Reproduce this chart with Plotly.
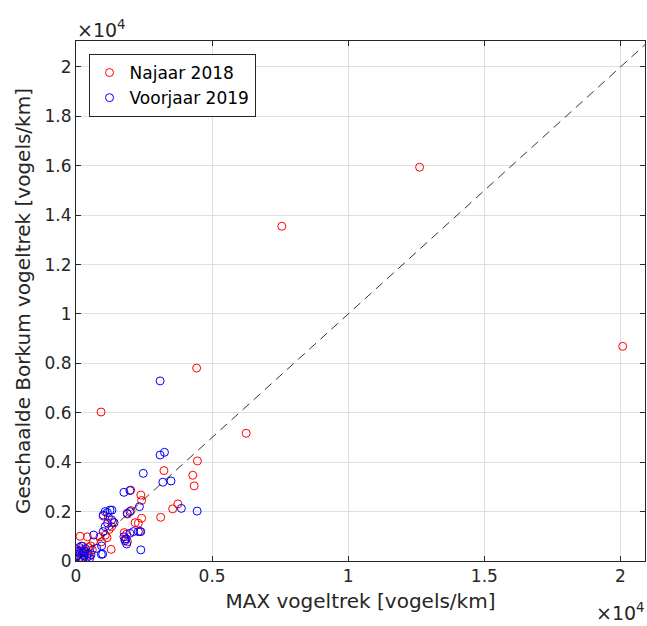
import plotly.graph_objects as go

# Bird migration intensity (birds/km): MAX radar vs. scaled Borkum radar
najaar_2018_max = [12620, 7560, 20080, 4430, 920, 6250, 4460, 3230, 4290, 4340,
                   2380, 2410, 3740, 3550, 3110, 2410, 2170, 2020, 1890, 2010,
                   1000, 1190, 1350, 1310, 1220, 1860, 1800, 1890, 1770, 2350,
                   2290, 1290, 150, 420, 880, 940, 640, 540, 1080, 1140,
                   100, 200, 300, 150, 400, 250, 350, 500, 80, 600, 450]
najaar_2018_borkum = [15940, 13550, 8690, 7810, 6030, 5170, 4050, 3660, 3470, 3040,
                      2670, 2450, 2310, 2110, 1770, 1730, 1550, 2040, 1900, 2870,
                      1820, 1770, 1580, 1390, 1280, 1090, 880, 780, 1150, 1190,
                      1530, 470, 1000, 980, 980, 780, 780, 610, 1050, 940,
                      350, 450, 250, 150, 300, 600, 400, 200, 80, 450, 550]

voorjaar_2019_max = [3090, 3090, 3250, 2470, 3190, 3490, 3870, 4450, 1760, 1980,
                     2330, 2380, 2380, 1980, 1880, 1000, 1150, 1320, 1250, 1070,
                     1310, 1400, 1160, 1070, 1000, 2290, 2110, 1980, 1760, 1800,
                     1860, 1840, 650, 760, 940, 980, 930,
                     50, 100, 150, 200, 250, 300, 350, 400, 120, 200, 300, 450,
                     550, 30, 250, 500]
voorjaar_2019_borkum = [7290, 4290, 4400, 3550, 3190, 3240, 2130, 2020, 2780, 2850,
                        2200, 1190, 450, 2000, 1930, 1860, 1960, 2060, 2060, 2000,
                        1660, 1550, 1530, 1390, 1190, 1190, 1190, 1120, 980, 820,
                        690, 900, 1050, 510, 610, 280, 270,
                        200, 400, 300, 100, 350, 200, 500, 150, 550, 600, 400, 300,
                        250, 450, 50, 100]

# Axis limits and tick labels (values shown in units of 10^4)
x_limits = [0, 20900]
y_limits = [0, 21050]
x_tick_vals = [0, 5000, 10000, 15000, 20000]
x_tick_text = ["0", "0.5", "1", "1.5", "2"]
y_tick_vals = [0, 2000, 4000, 6000, 8000, 10000, 12000, 14000, 16000, 18000, 20000]
y_tick_text = ["0", "0.2", "0.4", "0.6", "0.8", "1", "1.2", "1.4", "1.6", "1.8", "2"]

font_family = "DejaVu Sans, Arial, sans-serif"
text_color = "#262626"
grid_color = "#dfdfdf"

fig = go.Figure()

fig.add_trace(go.Scatter(
    x=najaar_2018_max, y=najaar_2018_borkum, mode="markers", name="Najaar 2018",
    marker=dict(symbol="circle-open", size=8, color="#ff0000", line=dict(width=1)),
))
fig.add_trace(go.Scatter(
    x=voorjaar_2019_max, y=voorjaar_2019_borkum, mode="markers", name="Voorjaar 2019",
    marker=dict(symbol="circle-open", size=8, color="#0000ff", line=dict(width=1)),
))

# 1:1 reference line across the plotting area
diag = [0, max(x_limits[1], y_limits[1])]
fig.add_trace(go.Scatter(
    x=diag, y=diag, mode="lines", showlegend=False, hoverinfo="skip",
    line=dict(color="black", width=0.8, dash="9px,6px"),
))

axis_common = dict(
    showgrid=True, gridcolor=grid_color, gridwidth=1,
    zeroline=False, showline=True, linecolor="#262626", linewidth=1,
    mirror="ticks", ticks="inside", ticklen=5, tickcolor="#262626",
    tickfont=dict(family=font_family, size=17, color=text_color),
)

fig.update_xaxes(
    range=x_limits, tickmode="array", tickvals=x_tick_vals, ticktext=x_tick_text,
    title=dict(text="MAX vogeltrek [vogels/km]", standoff=8,
               font=dict(family=font_family, size=20, color=text_color)),
    **axis_common,
)
fig.update_yaxes(
    range=y_limits, tickmode="array", tickvals=y_tick_vals, ticktext=y_tick_text,
    title=dict(text="Geschaalde Borkum vogeltrek [vogels/km]", standoff=8,
               font=dict(family=font_family, size=20, color=text_color)),
    **axis_common,
)

# Exponent labels for both axes
exp_font = dict(family=font_family, size=19, color=text_color)
fig.add_annotation(x=0, y=1, xref="paper", yref="paper", xanchor="left", yanchor="bottom",
                   xshift=-1, yshift=-2, showarrow=False,
                   text="×10<sup>4</sup>", font=exp_font)
fig.add_annotation(x=1, y=0, xref="paper", yref="paper", xanchor="right", yanchor="top",
                   xshift=2, yshift=-37, showarrow=False,
                   text="×10<sup>4</sup>", font=exp_font)

fig.update_layout(
    width=647, height=626,
    margin=dict(l=76, r=2, t=41, b=65),
    plot_bgcolor="white", paper_bgcolor="white",
    legend=dict(
        x=0.022, y=0.975, xanchor="left", yanchor="top",
        bgcolor="white", bordercolor="#262626", borderwidth=1,
        font=dict(family=font_family, size=17, color="black"),
        itemwidth=30, tracegroupgap=0,
    ),
)

fig.write_html("out.html")
